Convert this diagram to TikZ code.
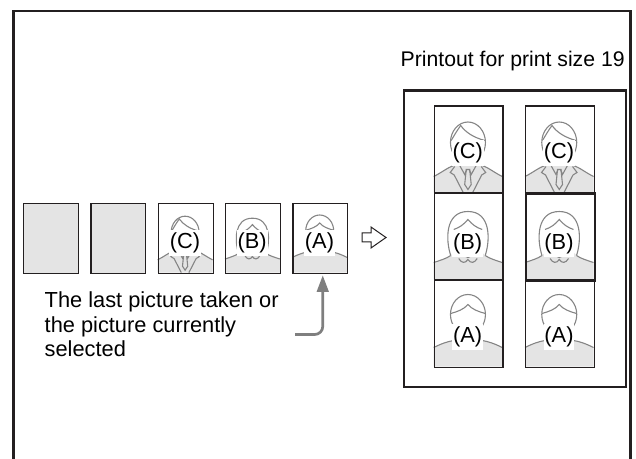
\documentclass[tikz,border=0pt]{standalone}
\usepackage{fontspec}
\setmainfont{Liberation Sans}
\usetikzlibrary{arrows.meta}

\definecolor{ink}{HTML}{231F20}
\definecolor{lightfill}{HTML}{E4E4E4}
\definecolor{outline}{HTML}{858585}
\definecolor{leadgray}{HTML}{7F7F7F}

\newcommand{\lbl}{\fontsize{10.9}{12.25}\selectfont}
\newcommand{\ttl}{\fontsize{10.6}{12.25}\selectfont}

% faces, drawn in a 68.5 x 87 box with y pointing down
\newcommand{\faceA}{%
  \fill[bodyfill] (0,68) .. controls (8,64) and (14,62) .. (20,61) -- (48.5,61)
    .. controls (54.5,62) and (60.5,64) .. (68.5,68) -- (68.5,87) -- (0,87) -- cycle;
  \draw[faceline] (0,68) .. controls (8,64) and (14,62) .. (20,61);
  \draw[faceline] (48.5,61) .. controls (54.5,62) and (60.5,64) .. (68.5,68);
  \draw[faceline] (34.25,35) ellipse [x radius=17.5, y radius=20];
  \draw[faceline] (17,34) .. controls (24,32) and (30,30) .. (34.25,25)
    .. controls (38.5,30) and (44.5,32) .. (51.5,34);
}
\newcommand{\faceB}{%
  \fill[bodyfill] (0,70) .. controls (6,68) and (13,66) .. (17,63) -- (22,58)
    .. controls (26,62) and (30,65) .. (34.25,65) .. controls (38.5,65) and (42.5,62) .. (46.5,58)
    -- (51.5,63) .. controls (55.5,66) and (62.5,68) .. (68.5,70) -- (68.5,87) -- (0,87) -- cycle;
  \draw[faceline] (0,70) .. controls (6,68) and (13,66) .. (17,63);
  \draw[faceline] (51.5,63) .. controls (55.5,66) and (62.5,68) .. (68.5,70);
  \draw[faceline] (17,63) .. controls (12,48) and (11,19) .. (34.25,19)
    .. controls (57.5,19) and (56.5,48) .. (51.5,63);
  \draw[faceline] (20,37) .. controls (26,35) and (30,32) .. (34.25,27)
    .. controls (38.5,32) and (42.5,35) .. (48.5,37);
  \draw[faceline] (21.5,40) .. controls (21.5,55) and (28,63) .. (34.25,65)
    .. controls (40.5,63) and (47,55) .. (47,40);
  \draw[faceline] (25,66) .. controls (28,71) and (31.5,71) .. (34.25,67)
    .. controls (37,71) and (40.5,71) .. (43.5,66);
}
\newcommand{\faceC}{%
  \fill[bodyfill] (0,71) .. controls (8,67) and (14,62) .. (20,60) -- (48.5,60)
    .. controls (54.5,62) and (60.5,67) .. (68.5,71) -- (68.5,87) -- (0,87) -- cycle;
  \draw[faceline] (0,71) .. controls (8,67) and (14,62) .. (20,60);
  \draw[faceline] (48.5,60) .. controls (54.5,62) and (60.5,67) .. (68.5,71);
  \draw[faceline] (34.25,37) ellipse [x radius=17.5, y radius=20.5];
  \draw[faceline] (17.5,35) .. controls (21,29) and (24,24) .. (27,20)
    .. controls (32,27) and (40,32) .. (51,35);
  % lapels, collar and tie
  \draw[faceline] (21,61) -- (16.5,67) -- (20.5,69.5) -- (29.5,87);
  \draw[faceline] (47.5,61) -- (52,67) -- (48,69.5) -- (39,87);
  \draw[faceline] (26,60) -- (31,69) -- (33,64);
  \draw[faceline] (42.5,60) -- (37.5,69) -- (35.5,64);
  \draw[faceline] (32.5,64) -- (36,64) -- (37.5,79) -- (34.25,84) -- (31,79) -- cycle;
}

% \photo[border]{name}{top left}{scale}{kind}{label y}
\newcommand{\photo}[6][]{%
  \begin{scope}[shift={#3}, scale=#4]
    \csname face#5\endcsname
    \node[photolabel] (#2-label) at (34,#6) {(#5)};
  \end{scope}
  \node[photo, #1, minimum width=#4*34.25pt, minimum height=#4*43.5pt] (#2) at #3 {};
}

\begin{document}
\begin{tikzpicture}[x={(0.5pt,0)}, y={(0,-0.5pt)},
    outerframe/.style={draw=ink, line width=1.4pt},
    sheet/.style={draw=ink, line width=1.15pt, inner sep=0pt, anchor=north west,
      minimum width=111pt, minimum height=148.4pt},
    photo/.style={draw=ink, line width=0.65pt, inner sep=0pt, anchor=north west},
    photolabel/.style={fill=white, inner xsep=0.4pt, inner ysep=1.6pt, font=\lbl},
    faceline/.style={draw=outline, line width=0.55pt},
    bodyfill/.style={fill=lightfill},
    lead/.style={draw=leadgray, line width=1.35pt, rounded corners=4pt,
      -{Triangle[length=8.3pt, width=5.8pt]}},
    txt/.style={font=\lbl, inner sep=0pt}]

  \useasboundingbox (0,0) rectangle (636,459);
  \draw[outerframe] (13.5,459) -- (13.5,11) -- (630.5,11) -- (630.5,459);

  % pictures in the camera
  \foreach \i/\x in {1/23, 2/90.3}
    \node[photo, fill=lightfill, minimum width=27.4pt, minimum height=34.8pt] (blank\i) at (\x,203) {};
  \photo{pc}{(157.7,203)}{0.8}{C}{50}
  \photo{pb}{(225,203)}{0.8}{B}{50}
  \photo{pa}{(292.3,203)}{0.8}{A}{50}

  \draw[ink, line width=0.5pt, fill=white] (362,233) -- (371,233) -- (371,227) -- (386,237.5)
    -- (371,248) -- (371,242) -- (362,242) -- cycle;

  % the printed sheet
  \node[sheet] (sheet) at (403,89.3) {};
  \node[txt, font=\ttl, anchor=base east] (title) at (625,67) {Printout for print size 19};
  \photo{c1}{(433.7,105.5)}{1}{C}{47.5}
  \photo{c2}{(525,105.5)}{1}{C}{47.5}
  \photo{b1}{(433.7,192.5)}{1}{B}{51}
  \photo[line width=1.15pt]{b2}{(525,192.5)}{1}{B}{51}
  \photo{a1}{(433.7,279.5)}{1}{A}{57.5}
  \photo{a2}{(525,279.5)}{1}{A}{57.5}

  \node[txt, align=left, anchor=north west] (caption) at (44.3,291.5)
    {The last picture taken or\\the picture currently\\selected};
  \coordinate (capend) at (295,334.5);
  \draw[lead] (capend) -| ([xshift=1.2pt, yshift=-0.7pt]pa.south);
\end{tikzpicture}
\end{document}
